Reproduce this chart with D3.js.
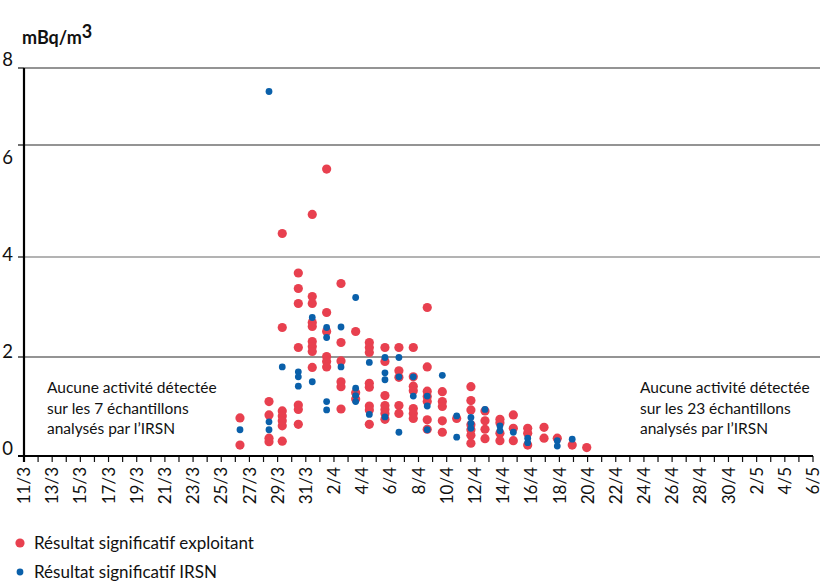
<!DOCTYPE html>
<html><head><meta charset="utf-8">
<script src="https://cdn.jsdelivr.net/npm/d3@7"></script>
<style>
body{margin:0;background:#fff}
svg{display:block}
text{font-family:Lato,"Open Sans",sans-serif;fill:#111}
</style>
</head><body>
<svg id="chart" width="820" height="581"></svg>
<script>
// Day index counted from 11 March (0 = 11/3)
const columnDays = [15.33,17.39,18.33,19.47,20.46,21.48,22.50,23.54,24.51,25.62,26.61,27.63,28.62,29.69,30.71,31.72,32.72,33.78,34.73,35.75,36.91,37.85,38.91,39.94];
// Résultat significatif exploitant (mBq/m3), one list per sampling column
const exploitant = [
  [0.77,0.22],
  [1.10,0.83,0.36,0.29],
  [4.42,2.59,0.91,0.81,0.71,0.61,0.30],
  [3.68,3.37,3.07,2.19,1.03,0.94,0.64],
  [4.76,3.21,3.07,2.69,2.61,2.31,2.21,2.11,1.79],
  [5.57,2.89,2.51,2.01,1.91,1.80],
  [3.47,2.29,1.92,1.50,1.40,0.95],
  [2.51,1.28,1.15],
  [2.29,2.19,2.09,1.47,1.39,1.01,0.93,0.64],
  [2.19,1.91,1.22,1.02,0.94,0.86,0.74],
  [2.19,1.72,1.59,1.02,0.86],
  [2.19,1.60,1.41,1.32,0.96,0.86,0.76],
  [2.99,1.80,1.31,1.20,1.10,0.73,0.54],
  [1.30,1.10,1.00,0.71,0.48],
  [0.76],
  [1.40,1.12,0.93,0.63,0.53,0.42,0.26],
  [0.91,0.71,0.54,0.35],
  [0.74,0.67,0.46,0.31],
  [0.83,0.56,0.31],
  [0.56,0.46,0.22],
  [0.58,0.36],
  [0.36],
  [0.22],
  [0.17]
];
// Résultat significatif IRSN (mBq/m3)
const irsn = [
  [0.53],
  [7.39,0.69,0.53],
  [1.80],
  [1.70,1.60,1.41],
  [2.79,1.50],
  [2.59,2.39,1.10,0.93],
  [2.60,1.80],
  [3.19,1.37,1.22,1.10],
  [1.89,0.84],
  [1.99,1.68,1.54,0.79],
  [1.99,1.60,0.48],
  [1.60,1.21],
  [1.21,1.01,0.53],
  [1.63],
  [0.81,0.38],
  [0.78,0.66,0.56],
  [0.94],
  [0.61,0.51],
  [0.48],
  [0.36,0.27],
  [],
  [0.31,0.20],
  [0.34],
  []
];
const yTicks = [0,2,4,6,8];
const yTickLabels = ["0","2","4","6","8"];
const tickDays = d3.range(0,57,2);
const tickLabels = ["11/3","13/3","15/3","17/3","19/3","21/3","23/3","25/3","27/3","29/3","31/3","2/4","4/4","6/4","8/4","10/4","12/4","14/4","16/4","18/4","20/4","22/4","24/4","26/4","28/4","30/4","2/5","4/5","6/5"];
const allDays = d3.range(0,57);
const leftNote = ["Aucune activité détectée","sur les 7 échantillons","analysés par l’IRSN"];
const rightNote = ["Aucune activité détectée","sur les 23 échantillons","analysés par l’IRSN"];
const legendItems = [{label:"Résultat significatif exploitant", key:"e"},{label:"Résultat significatif IRSN", key:"i"}];

const RED = "#e8404f", BLUE = "#0a60aa";
const svg = d3.select("#chart");
const x = d3.scaleLinear().domain([0,56]).range([24,813]);
const y = d3.scaleLinear().domain([0,2,4,6,8]).range([456,357,257,145,68]);
const yLab = d3.scaleLinear().domain([0,8]).range([449,60]);

// gridlines
svg.append("g").selectAll("line").data(yTicks.filter(d=>d>0)).join("line")
  .attr("x1",24).attr("x2",820).attr("y1",d=>y(d)).attr("y2",d=>y(d))
  .attr("stroke",d=>d===4?"#9a9a9a":"#2a2a2a").attr("stroke-width",d=>d===4?1.6:1.2);

// y ticks
svg.append("g").selectAll("line").data(yTicks).join("line")
  .attr("x1",18).attr("x2",24).attr("y1",d=>y(d)).attr("y2",d=>y(d))
  .attr("stroke","#111").attr("stroke-width",1.2);
svg.append("g").selectAll("text").data(yTicks).join("text")
  .attr("x",13).attr("y",d=>yLab(d)).attr("dy","0.35em").attr("text-anchor","end")
  .attr("font-size",18.5).text((d,i)=>yTickLabels[i]);

// x ticks
svg.append("g").selectAll("line").data(allDays).join("line")
  .attr("x1",d=>x(d)).attr("x2",d=>x(d)).attr("y1",456).attr("y2",462)
  .attr("stroke","#111").attr("stroke-width",1.2);
svg.append("g").selectAll("text").data(tickDays).join("text")
  .attr("transform",d=>`translate(${x(d)},467) rotate(-90)`)
  .attr("text-anchor","end").attr("dy","0.36em").attr("font-size",17)
  .text((d,i)=>tickLabels[i]);

// axes lines
svg.append("line").attr("x1",24).attr("x2",24).attr("y1",68).attr("y2",462).attr("stroke","#000").attr("stroke-width",2.2);
svg.append("line").attr("x1",18).attr("x2",813).attr("y1",456).attr("y2",456).attr("stroke","#000").attr("stroke-width",2);

// unit title
const t = svg.append("text").attr("x",22).attr("y",43.5).attr("font-size",18).attr("font-weight","bold");
t.append("tspan").text("mBq/m");
t.append("tspan").attr("dy",-5.5).attr("font-size",18).text("3");

// points
const ePts = [], iPts = [];
exploitant.forEach((vals,i)=>vals.forEach(v=>ePts.push([columnDays[i],v])));
irsn.forEach((vals,i)=>vals.forEach(v=>iPts.push([columnDays[i],v])));
svg.append("g").selectAll("circle").data(ePts).join("circle")
  .attr("cx",d=>x(d[0])).attr("cy",d=>y(d[1])).attr("r",4.6).attr("fill",RED);
svg.append("g").selectAll("circle").data(iPts).join("circle")
  .attr("cx",d=>x(d[0])).attr("cy",d=>y(d[1])).attr("r",3.4).attr("fill",BLUE);

// notes
function note(lines,x0){
  svg.append("g").selectAll("text").data(lines).join("text")
    .attr("x",x0).attr("y",(d,i)=>393+i*20.5).attr("font-size",15.5).text(d=>d);
}
note(leftNote,47);
note(rightNote,640);

// legend
const lg = svg.append("g");
legendItems.forEach((it,i)=>{
  lg.append("circle").attr("cx",20).attr("cy",543+i*29).attr("r",it.key==="e"?4.6:3.4).attr("fill",it.key==="e"?RED:BLUE);
  lg.append("text").attr("x",34).attr("y",549+i*29).attr("font-size",17).text(it.label);
});
</script>
</body></html>
